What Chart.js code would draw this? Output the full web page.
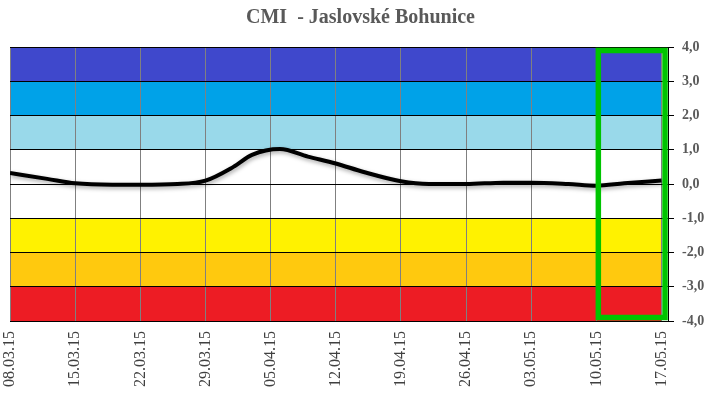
<!DOCTYPE html>
<html>
<head>
<meta charset="utf-8">
<script src="https://cdn.jsdelivr.net/npm/chart.js@4"></script>
<style>
  html, body { margin: 0; padding: 0; background: #fff; }
  #wrap { width: 712px; height: 393px; }
</style>
</head>
<body>
<div id="wrap"><canvas id="cmiChart"></canvas></div>
<script>
// week labels on the x axis (one every 7 days)
const dateLabels = ['08.03.15', '15.03.15', '22.03.15', '29.03.15', '05.04.15', '12.04.15',
                    '19.04.15', '26.04.15', '03.05.15', '10.05.15', '17.05.15'];

// CMI readings: day offset from 08.03.15 and value
const days =      [0,    4,    7,    11,    14,    18,   21,   24,   26,   29,   32,   35,   38,   42,   45,  49,   53,   56,   60,   63,    66,   70];
const cmiValues = [0.32, 0.15, 0.02, -0.02, -0.02, 0.0,  0.1,  0.5,  0.85, 1.02, 0.8,  0.6,  0.35, 0.08, 0.0, 0.0,  0.04, 0.04, 0.0,  -0.05, 0.02, 0.1];

// drought/wetness bands (from, to, colour)
const bandFrom   = [3, 2, 1, -1, -2, -3, -4];
const bandTo     = [4, 3, 2, 1, -1, -2, -3];
const bandColors = ['#3f48cc', '#00a2e8', '#99d9ea', '#ffffff', '#fff200', '#ffc90e', '#ed1c24'];

// highlighted week (day offsets)
const highlightFrom = 63;
const lastDay = 70;

const bandsPlugin = {
    id: 'bands',
    beforeDraw(chart) {
        const { ctx, chartArea, scales } = chart;
        const xEnd = scales.x.getPixelForValue(lastDay);
        ctx.save();
        bandFrom.forEach((from, i) => {
            const yTop = scales.y.getPixelForValue(bandTo[i]);
            const yBot = scales.y.getPixelForValue(from);
            ctx.fillStyle = bandColors[i];
            ctx.fillRect(chartArea.left, yTop, xEnd - chartArea.left, yBot - yTop);
        });
        ctx.restore();
    }
};

const shadowPlugin = {
    id: 'lineShadow',
    beforeDatasetDraw(chart) {
        const ctx = chart.ctx;
        ctx.save();
        ctx.shadowColor = 'rgba(0,0,0,0.35)';
        ctx.shadowBlur = 4;
        ctx.shadowOffsetX = 1;
        ctx.shadowOffsetY = 2;
    },
    afterDatasetDraw(chart) {
        chart.ctx.restore();
    }
};

const highlightPlugin = {
    id: 'highlight',
    afterDraw(chart) {
        const { ctx, chartArea, scales } = chart;
        const x1 = scales.x.getPixelForValue(highlightFrom) + 2;
        const x2 = chartArea.right - 3;
        ctx.save();
        ctx.strokeStyle = '#00c400';
        ctx.lineWidth = 5.5;
        ctx.strokeRect(x1, chartArea.top + 3.5, x2 - x1, chartArea.bottom - chartArea.top - 7);
        ctx.restore();
    }
};

new Chart(document.getElementById('cmiChart'), {
    type: 'line',
    data: {
        datasets: [{
            data: days.map((d, i) => ({ x: d, y: cmiValues[i] })),
            borderColor: '#000',
            borderWidth: 4,
            pointRadius: 0,
            cubicInterpolationMode: 'monotone',
            fill: false
        }]
    },
    options: {
        responsive: true,
        maintainAspectRatio: false,
        animation: false,
        layout: { padding: { left: 9, right: 0, top: 0, bottom: 0 } },
        plugins: {
            legend: { display: false },
            tooltip: { enabled: false },
            title: {
                display: true,
                text: 'CMI  - Jaslovské Bohunice',
                color: '#595959',
                font: { family: 'Liberation Serif', size: 20, weight: 'bold' },
                padding: { top: 6, bottom: 17 }
            }
        },
        scales: {
            x: {
                type: 'linear',
                min: 0,
                max: lastDay + 0.7,
                afterFit: s => { s.height = 72; },
                afterBuildTicks: s => { s.ticks = dateLabels.map((_, i) => ({ value: i * 7 })); },
                ticks: {
                    minRotation: 90,
                    maxRotation: 90,
                    autoSkip: false,
                    padding: 10,
                    color: '#404040',
                    font: { family: 'Liberation Serif', size: 16 },
                    callback: v => dateLabels[Math.round(v / 7)] ?? ''
                },
                grid: { color: '#808080', drawTicks: false, lineWidth: 1 },
                border: { display: false }
            },
            y: {
                position: 'right',
                min: -4,
                max: 4,
                afterFit: s => { s.width = 44; },
                ticks: {
                    stepSize: 0.5,
                    color: '#595959',
                    padding: 8,
                    font: { family: 'Liberation Serif', size: 14, weight: 'bold' },
                    callback: v => Number.isInteger(v) ? v.toFixed(1).replace('.', ',') : ''
                },
                grid: {
                    color: ctx => Number.isInteger(ctx.tick.value) ? '#000' : 'rgba(0,0,0,0)',
                    tickColor: '#000',
                    tickLength: 6,
                    lineWidth: 1
                },
                border: { display: true, color: '#000', width: 1 }
            }
        }
    },
    plugins: [bandsPlugin, shadowPlugin, highlightPlugin]
});
</script>
</body>
</html>
